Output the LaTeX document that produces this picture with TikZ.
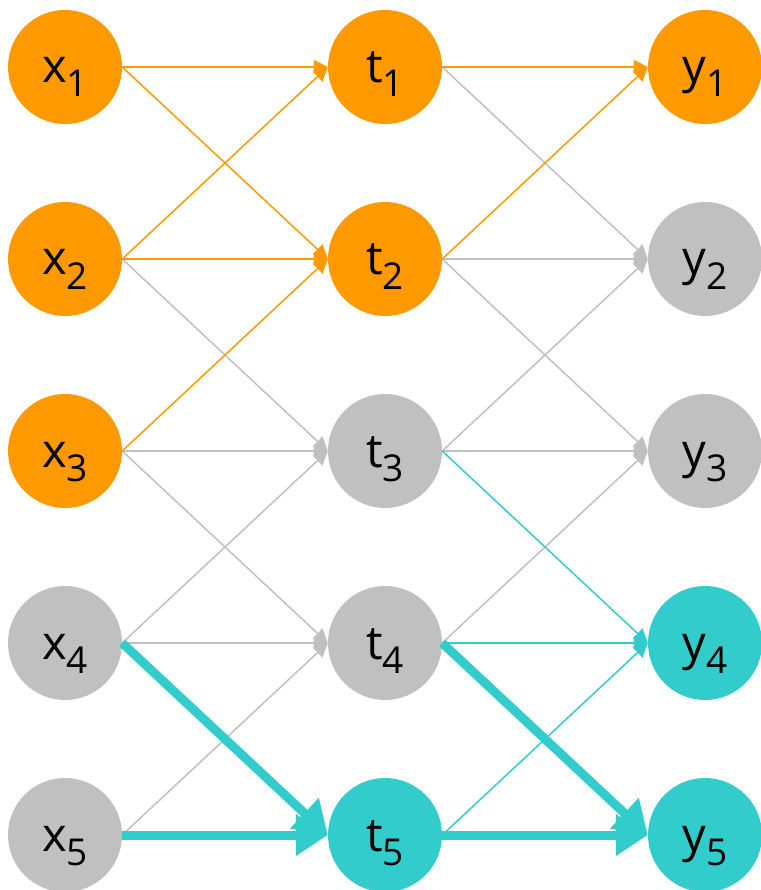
\documentclass[tikz,border=0pt]{standalone}
\usepackage{fontspec}
\setmainfont{Open Sans}
\usetikzlibrary{arrows.meta}
\definecolor{hlorange}{RGB}{255,153,0}
\definecolor{hlgray}{RGB}{192,192,192}
\definecolor{hlteal}{RGB}{51,204,204}
\tikzset{
  unit/.style={circle,fill=#1,minimum size=114pt,inner sep=0pt,
    text height=46pt,text depth=14pt},
  link/.style={draw=#1,line width=1.5pt,-{Triangle[length=14pt,width=14pt]}},
  flow/.style={draw=hlteal,line width=9pt,-{Triangle[length=32pt,width=40pt]}}
}
\newcommand{\lbl}[2]{{\fontsize{47}{47}\selectfont #1}\raisebox{-14pt}{\fontsize{37}{37}\selectfont #2}}
\begin{document}
\begin{tikzpicture}[x=1pt,y=-1pt]
  \useasboundingbox (0,0) rectangle (760,890);
  % three layers of units
  \foreach \c [count=\i] in {hlorange,hlorange,hlorange,hlgray,hlgray}
    \node[unit=\c] (x\i) at (65,{67+192*(\i-1)}) {\lbl{x}{\i}};
  \foreach \c [count=\i] in {hlorange,hlorange,hlgray,hlgray,hlteal}
    \node[unit=\c] (t\i) at (385,{67+192*(\i-1)}) {\lbl{t}{\i}};
  \foreach \c [count=\i] in {hlorange,hlgray,hlgray,hlteal,hlteal}
    \node[unit=\c] (y\i) at (705,{67+192*(\i-1)}) {\lbl{y}{\i}};
  % connections
  \foreach \a/\b in {x2/t3,x3/t3,x3/t4,x4/t3,x4/t4,x5/t4,
                     t1/y2,t2/y2,t2/y3,t3/y2,t3/y3,t4/y3}
    \draw[link=hlgray] (\a.east) -- (\b.west);
  \foreach \a/\b in {x1/t1,x1/t2,x2/t1,x2/t2,x3/t2,t1/y1,t2/y1}
    \draw[link=hlorange] (\a.east) -- (\b.west);
  \foreach \a/\b in {t3/y4,t4/y4,t5/y4}
    \draw[link=hlteal] (\a.east) -- (\b.west);
  \foreach \a/\b in {x4/t5,x5/t5,t4/y5,t5/y5}
    \draw[flow] (\a.east) -- (\b.west);
\end{tikzpicture}
\end{document}
